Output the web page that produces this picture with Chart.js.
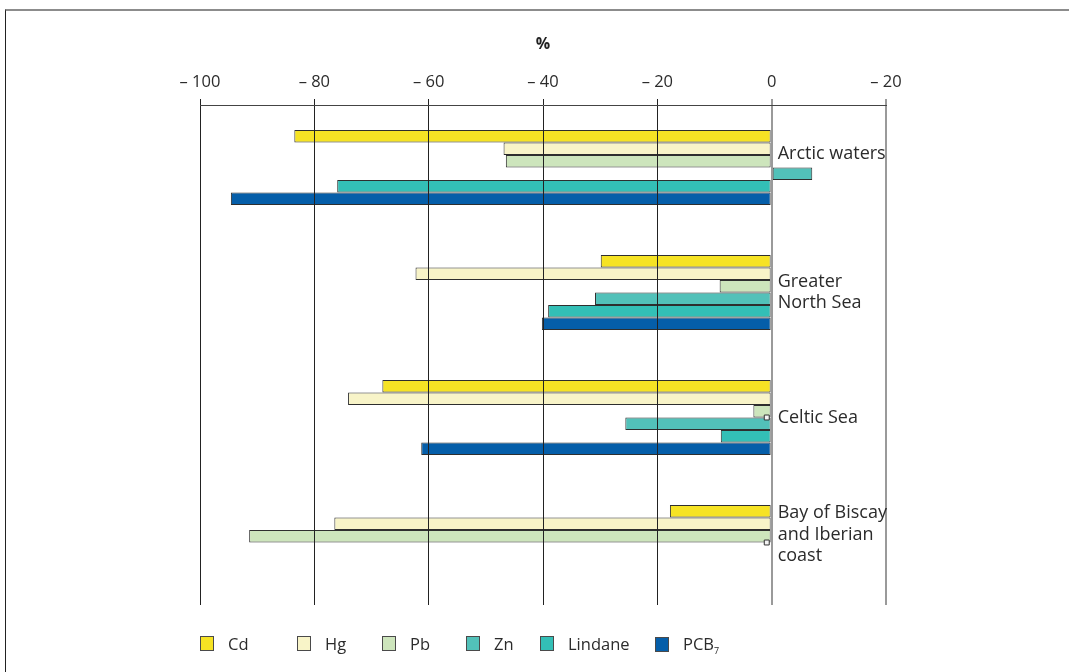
<!DOCTYPE html>
<html>
<head>
<meta charset="utf-8">
<script src="https://cdn.jsdelivr.net/npm/chart.js@4/dist/chart.umd.min.js"></script>
<style>
  html, body { margin:0; padding:0; background:#fff; }
  #wrap { position:relative; width:1069px; height:672px; overflow:hidden; font-family:"Open Sans", sans-serif; }
  #frame { position:absolute; left:5px; top:9px; right:-5px; bottom:-5px; border-top:2px solid #8c8c8c; border-left:1.5px solid #222; }
  #c { position:absolute; left:0; top:0; }
  #legend { position:absolute; left:0; top:632px; width:1069px; height:24px; color:#2b2b2b; font-size:16.5px; }
  .item { position:absolute; top:0; display:flex; align-items:center; white-space:nowrap; }
  .box { width:12px; height:13px; border:1px solid #4a4a4a; margin-right:14px; box-sizing:content-box; }
</style>
</head>
<body>
<div id="wrap">
  <div id="frame"></div>
  <canvas id="c" width="1069" height="672"></canvas>
  <div id="legend"></div>
</div>
<script>
const categories = [["Arctic waters"], ["Greater", "North Sea"], ["Celtic Sea"], ["Bay of Biscay", "and Iberian", "coast"]];
const seriesNames = ["Cd", "Hg", "Pb", "Zn", "Lindane", "PCB\u2087"];
const cd      = [-83.5, -29.9, -68.1, -17.8];
const hg      = [-46.9, -62.3, -74.1, -76.5];
const pb      = [-46.5,  -9.1,  -3.2, -91.4];
const zn      = [  7.1, -30.9, -25.6,  null];
const lindane = [-76.0, -39.1,  -8.9,  null];
const pcb     = [-94.6, -40.2, -61.3,  null];
const markerValues = [null, null, -0.86, -0.86];
const tickValues = [-100, -80, -60, -40, -20, 0, 20];
const tickLabels = ["\u2013 100", "\u2013 80", "\u2013 60", "\u2013 40", "\u2013 20", "0", "\u2013 20"];
const colors = ["#f6e324", "#f8f4c8", "#cde5bc", "#52c1b9", "#33bfb6", "#055ea9"];
const legendX = [200, 297, 382, 466, 540, 655];

const seriesValues = [cd, hg, pb, zn, lindane, pcb];
const barSets = seriesValues.map((vals, i) => ({
  type: 'bar',
  label: seriesNames[i],
  data: vals,
  backgroundColor: colors[i],
  borderColor: '#2e2e2e',
  borderWidth: 1,
  borderSkipped: false,
  categoryPercentage: 0.6,
  barPercentage: 1.0,
  order: 2
}));
const markerSet = {
  type: 'line',
  label: 'marker',
  indexAxis: 'y',
  data: markerValues,
  showLine: false,
  spanGaps: false,
  pointStyle: 'rect',
  pointRadius: 3.5,
  pointBackgroundColor: '#f4f4f4',
  pointBorderColor: '#333',
  pointBorderWidth: 1,
  order: 1
};

const catLabelPlugin = {
  id: 'catLabels',
  afterDraw(chart, args, opts) {
    const ctx = chart.ctx;
    const xs = chart.scales.x, ys = chart.scales.y;
    const x0 = xs.getPixelForValue(0) + 6;
    ctx.save();
    ctx.font = '18px "Open Sans", sans-serif';
    ctx.fillStyle = '#2b2b2b';
    ctx.textAlign = 'left';
    ctx.textBaseline = 'middle';
    const lh = 21.5;
    chart.data.labels.forEach((lines, i) => {
      const yc = ys.getPixelForValue(i) + opts.shift[i];
      const top = yc - (lines.length - 1) * lh / 2;
      lines.forEach((t, k) => ctx.fillText(t, x0, top + k * lh));
    });
    ctx.restore();
  }
};

const chart = new Chart(document.getElementById('c'), {
  type: 'bar',
  data: { labels: categories, datasets: [...barSets, markerSet] },
  plugins: [catLabelPlugin],
  options: {
    indexAxis: 'y',
    responsive: false,
    animation: false,
    layout: { padding: { left: 200, right: 183, top: 0, bottom: 67 } },
    plugins: {
      legend: { display: false },
      tooltip: { enabled: false },
      catLabels: { shift: [-14, 0, 0, -8] }
    },
    scales: {
      x: {
        position: 'top',
        min: -100, max: 20,
        afterBuildTicks: s => { s.ticks = tickValues.map(v => ({ value: v })); },
        afterFit: s => { s.height = 105; },
        ticks: {
          callback: v => tickLabels[tickValues.indexOf(v)],
          font: { family: '"Open Sans", sans-serif', size: 16.5 },
          color: '#2b2b2b',
          padding: 7,
          maxRotation: 0
        },
        grid: {
          z: 1,
          color: c => (c.tick && c.tick.value >= 0) ? '#9a9a9a' : '#222',
          lineWidth: c => (c.tick && c.tick.value >= 0) ? 2 : 1,
          tickLength: 6,
          drawTicks: true
        },
        border: { display: true, color: '#444', width: 1, z: 1 },
        title: {
          display: true, text: '%', color: '#222',
          font: { family: '"Open Sans", sans-serif', size: 16, weight: 'bold' },
          padding: { top: 35, bottom: 0 }
        }
      },
      y: {
        display: false,
        offset: true
      }
    }
  }
});

const leg = document.getElementById('legend');
barSets.forEach((ds, i) => {
  const it = document.createElement('div');
  it.className = 'item';
  it.style.left = legendX[i] + 'px';
  const b = document.createElement('span');
  b.className = 'box';
  b.style.background = ds.backgroundColor;
  const t = document.createElement('span');
  const name = ds.label;
  if (name.endsWith('\u2087')) {
    t.innerHTML = name.slice(0, -1) + '<sub style="font-size:9px">7</sub>';
  } else {
    t.textContent = name;
  }
  it.appendChild(b); it.appendChild(t);
  leg.appendChild(it);
});
</script>
</body>
</html>
